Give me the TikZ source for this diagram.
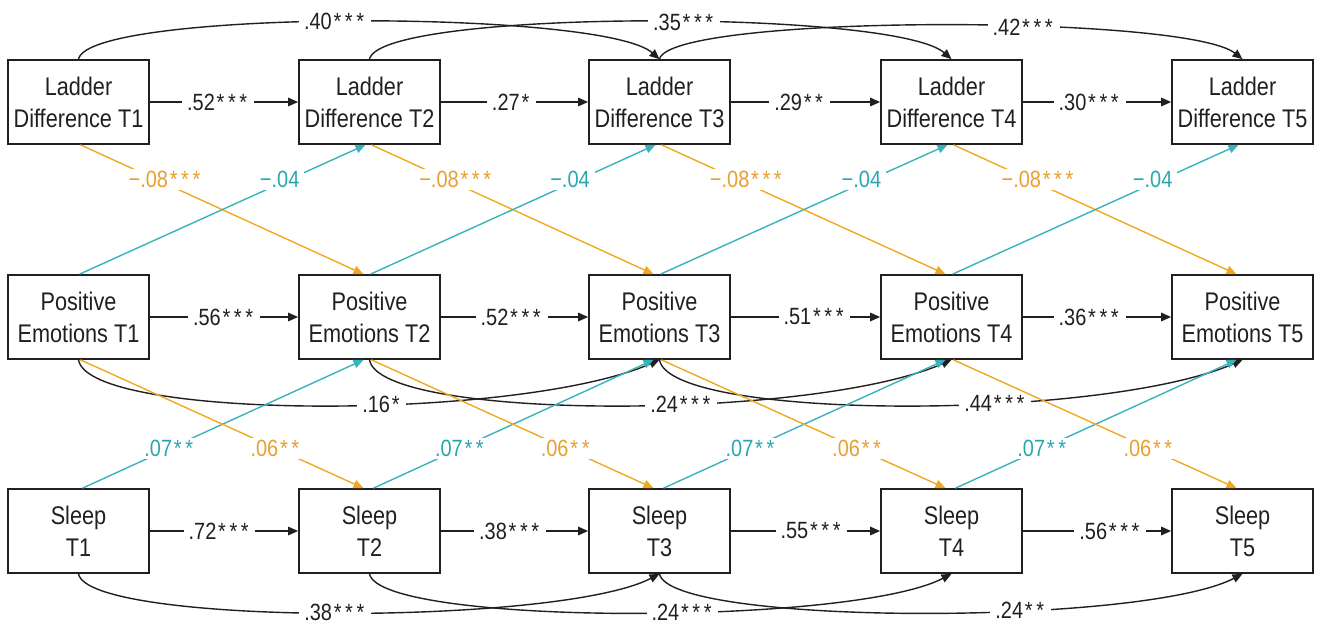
\documentclass[tikz,border=0pt]{standalone}
\usepackage{fontspec}
\setmainfont{Liberation Sans}
\newfontfamily\boxfont{Liberation Sans}[FakeStretch=0.85]
\usetikzlibrary{arrows.meta}
\definecolor{ink}{HTML}{231F20}
\definecolor{orl}{HTML}{F0A91E}
\definecolor{ort}{HTML}{E8A030}
\definecolor{tel}{HTML}{38B3BC}
\definecolor{tet}{HTML}{2AA7AE}
\newcommand\St{\kern1.8pt*\kern1.8pt}
\begin{document}
\begin{tikzpicture}[x=1pt,y=-1pt,
  box/.style={draw=ink, line width=1.7pt, minimum width=141pt, minimum height=84pt,
    inner sep=0pt, align=center, text=ink, font=\boxfont\fontsize{25.5}{32}\selectfont},
  conn/.style={line width=1.4pt, draw=ink, -{Triangle[length=10pt,width=8.5pt]}},
  lab/.style={fill=white, inner xsep=5pt, inner ysep=2pt, text=ink,
    font=\boxfont\fontsize{23.5}{26}\selectfont},
  orng/.style={conn, draw=orl},
  teal/.style={conn, draw=tel},
  olab/.style={lab, text=ort},
  tlab/.style={lab, text=tet}]
\useasboundingbox (0,0) rectangle (1317,633);

% boxes
\foreach \i/\x in {1/78.5,2/369.5,3/659.5,4/951.5,5/1242.5}{
  \node[box] (L\i) at (\x,102) {Ladder\\Difference T\i};
  \node[box] (P\i) at (\x,317) {Positive\\Emotions T\i};
  \node[box] (S\i) at (\x,531) {Sleep\\T\i};
}

% lag-2 arcs, ladder (top)
\draw[conn] (L1.north) .. controls +(10,-50) and +(-57,-50) .. (L3.north) node[lab,pos=.48]{.40\St\St\St};
\draw[conn] (L2.north) .. controls +(10,-50) and +(-57,-50) .. (L4.north) node[lab,pos=.55]{.35\St\St\St};
\draw[conn] (L3.north) .. controls +(10,-45) and +(-57,-45) .. (L5.north) node[lab,pos=.61]{.42\St\St\St};

% lag-2 arcs, positive emotions (below)
\draw[conn] (P1.south) .. controls +(10,61) and +(-140,61) .. (P3.south) node[lab,pos=.58]{.16\St};
\draw[conn] (P2.south) .. controls +(10,61) and +(-140,61) .. (P4.south) node[lab,pos=.59]{.24\St\St\St};
\draw[conn] (P3.south) .. controls +(10,61) and +(-140,61) .. (P5.south) node[lab,pos=.62]{.44\St\St\St};

% lag-2 arcs, sleep (below)
\draw[conn] (S1.south) .. controls +(10,52) and +(-100,52) .. (S3.south) node[lab,pos=.5]{.38\St\St\St};
\draw[conn] (S2.south) .. controls +(10,52) and +(-100,52) .. (S4.south) node[lab,pos=.57]{.24\St\St\St};
\draw[conn] (S3.south) .. controls +(10,52) and +(-100,52) .. (S5.south) node[lab,pos=.63]{.24\St\St};

% cross-lagged paths
\foreach \i/\j in {1/2,2/3,3/4,4/5}{
  \draw[orng] ([xshift=2pt]L\i.south) -- ([xshift=-6pt]P\j.north)
    node[olab,pos=.3,yshift=4pt]{−.08\St\St\St};
  \draw[teal] ([xshift=1pt]P\i.north) -- ([xshift=-4pt]L\j.south)
    node[tlab,pos=.7,yshift=4pt]{−.04};
  \draw[teal] ([xshift=4pt]S\i.north) -- ([xshift=-6pt]P\j.south)
    node[tlab,pos=.31]{.07\St\St};
  \draw[orng] ([xshift=2pt]P\i.south) -- ([xshift=-6pt]S\j.north)
    node[olab,pos=.69]{.06\St\St};
}

% autoregressive paths
\draw[conn] (L1) -- (L2) node[lab,pos=.46]{.52\St\St\St};
\draw[conn] (L2) -- (L3) node[lab,pos=.48]{.27\St};
\draw[conn] (L3) -- (L4) node[lab,pos=.46]{.29\St\St};
\draw[conn] (L4) -- (L5) node[lab,pos=.45]{.30\St\St\St};
\draw[conn] (P1) -- (P2) node[lab,pos=.5]{.56\St\St\St};
\draw[conn] (P2) -- (P3) node[lab,pos=.48]{.52\St\St\St};
\draw[conn] (P3) -- (P4) node[lab,pos=.56]{.51\St\St\St};
\draw[conn] (P4) -- (P5) node[lab,pos=.45]{.36\St\St\St};
\draw[conn] (S1) -- (S2) node[lab,pos=.47]{.72\St\St\St};
\draw[conn] (S2) -- (S3) node[lab,pos=.47]{.38\St\St\St};
\draw[conn] (S3) -- (S4) node[lab,pos=.54]{.55\St\St\St};
\draw[conn] (S4) -- (S5) node[lab,pos=.59]{.56\St\St\St};
\end{tikzpicture}
\end{document}
